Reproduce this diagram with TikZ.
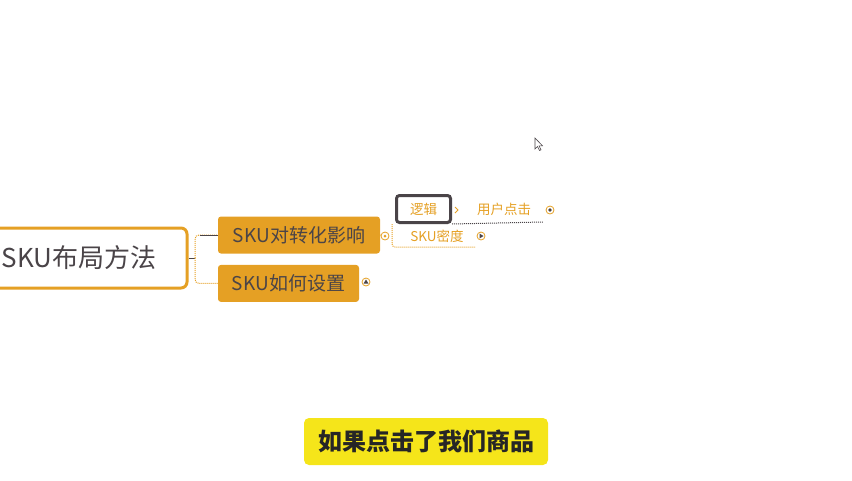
\documentclass[tikz,border=0pt]{standalone}
\usepackage{fontspec}
\setmainfont{Noto Sans CJK SC}
\usepackage{tikz}
\usetikzlibrary{positioning}

\definecolor{skuorange}{HTML}{E5A024}
\definecolor{inkgray}{HTML}{4A4448}
\definecolor{subyellow}{HTML}{F5E51A}

\begin{document}
\begin{tikzpicture}[x=1pt, y=-1pt,
    rootbox/.style={draw=skuorange, line width=3pt, rounded corners=6pt, fill=white, minimum width=217pt, minimum height=60pt, font=\fontsize{26}{26}\selectfont, text=inkgray},
    topic/.style={fill=skuorange, rounded corners=3pt, minimum height=37pt, inner xsep=0pt, font=\fontsize{19}{19}\selectfont, text=inkgray},
    leaf/.style={font=\fontsize{13.5}{14}\selectfont, text=skuorange, inner sep=1pt},
    selbox/.style={draw=inkgray, line width=3pt, rounded corners=3pt, fill=white, minimum width=54pt, minimum height=27pt},
    link/.style={skuorange, densely dotted, line width=1pt},
    fold/.style={draw=skuorange, line width=0.8pt, fill=white, circle, inner sep=0pt, minimum size=8pt},
    subtitle/.style={fill=subyellow, rounded corners=5pt, minimum width=244pt, minimum height=47pt, font=\fontsize{24}{24}\selectfont\bfseries, text=black!85}
]
\useasboundingbox (0,0) rectangle (852,480);

\node[rootbox, minimum width=216pt] (root) at (79,258) {SKU布局方法};

\node[topic, minimum width=162pt] (impact) at (299,235) {SKU对转化影响};
\node[topic, minimum width=141pt, below=11pt of impact.south west, anchor=north west] (setup) {SKU如何设置};

\node[fold] (foldA) at (385,236) {};
\node[fold] (foldB) at (366,282) {};

\node[selbox] (logic) at (423.5,209) {};
\node[leaf] at (logic) {逻辑};
\node[leaf, right=24pt of logic] (click) {用户点击};
\node[leaf] (density) at (437,236) {SKU密度};
\node[fold] (foldC) at (550,210) {};
\node[fold] (foldD) at (481,236) {};
\coordinate (hub) at (195,258);
\coordinate (fork) at (392,236);

% root to topics
\draw[inkgray, line width=1pt] (root.east) -- (hub);
\draw[link, rounded corners=4pt] (hub) |- (impact.west);
\draw[link, rounded corners=4pt] (hub) |- (setup.west);
\draw[inkgray, line width=1pt] (200,235) -- (impact.west);

% impact to leaves
\draw[link] (impact.east) -- (foldA);
\draw[link, rounded corners=3pt] (fork |- logic.south) -- (392,247) -- (475,247);
\draw[inkgray, densely dotted, line width=1pt] (logic.south east) -- (543,222);
\draw[skuorange, line width=0.8pt] (455,207) -- (458,210) -- (455,213);

% fold markers
\fill[inkgray] (foldC) circle (1.8pt);
\fill[inkgray] (foldD) ++(-1.5,-2.5) -- ++(4,2.5) -- ++(-4,2.5) -- cycle;
\fill[inkgray] (foldB) ++(-2.5,1.5) -- ++(2.5,-4) -- ++(2.5,4) -- cycle;
\fill[skuorange] (foldA) circle (1.5pt);

\node[subtitle] (caption) at (426,441.5) {如果点击了我们商品};

% mouse pointer
\draw[inkgray, fill=white, line width=0.6pt] (535,138) -- (535,149) -- (537.5,146.5) -- (539.5,150.5) -- (541,149.8) -- (539,145.8) -- (542.5,145.8) -- cycle;
\end{tikzpicture}
\end{document}
